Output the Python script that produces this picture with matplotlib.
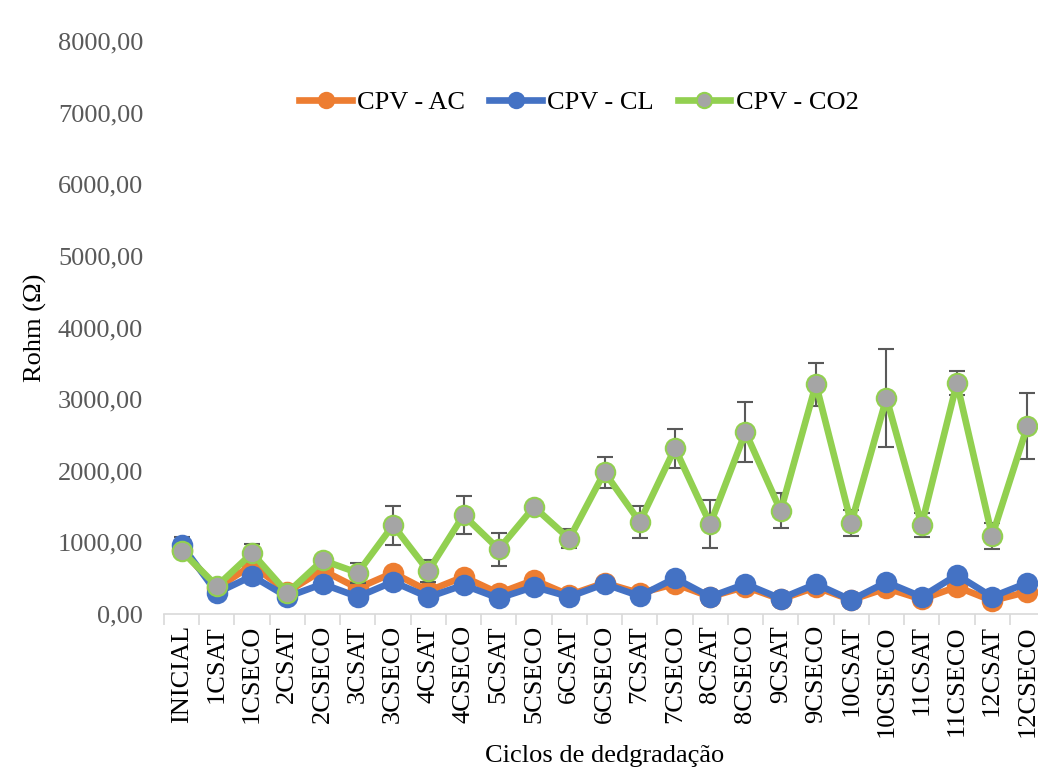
import numpy as np
import matplotlib
matplotlib.use('Agg')
import matplotlib.pyplot as plt
from matplotlib.lines import Line2D

plt.rcParams['font.family'] = ['Liberation Serif', 'DejaVu Serif']

ciclos = ["INICIAL", "1CSAT", "1CSECO", "2CSAT", "2CSECO", "3CSAT", "3CSECO",
          "4CSAT", "4CSECO", "5CSAT", "5CSECO", "6CSAT", "6CSECO", "7CSAT",
          "7CSECO", "8CSAT", "8CSECO", "9CSAT", "9CSECO", "10CSAT", "10CSECO",
          "11CSAT", "11CSECO", "12CSAT", "12CSECO"]

cpv_ac = [900, 360, 685, 310, 610, 360, 575, 320, 520, 290, 475, 265, 435,
          290, 420, 240, 380, 205, 375, 195, 360, 205, 380, 185, 310]
cpv_cl = [965, 295, 530, 240, 420, 240, 450, 235, 405, 220, 380, 240, 420,
          250, 500, 240, 420, 215, 420, 195, 445, 240, 545, 240, 435]
cpv_co2 = [880, 390, 850, 295, 750, 575, 1240, 600, 1380, 905, 1495, 1050, 1980,
           1285, 2315, 1255, 2540, 1440, 3210, 1270, 3015, 1245, 3225, 1090, 2625]

err_ac = [0] * 25
err_cl = [105] + [0] * 24
err_co2 = [40, 40, 125, 40, 40, 140, 270, 160, 265, 230, 40, 130, 215,
           225, 270, 330, 420, 245, 300, 180, 685, 170, 170, 180, 455]

series = [
    ('CPV - AC', cpv_ac, err_ac, '#ED7D31', '#ED7D31'),
    ('CPV - CL', cpv_cl, err_cl, '#4472C4', '#4472C4'),
    ('CPV - CO2', cpv_co2, err_co2, '#92D050', '#A5A5A5'),
]

fig = plt.figure(figsize=(10.38, 7.71), dpi=100)
ax = fig.add_axes([164 / 1038, 157 / 771, 881 / 1038, 573 / 771])

x = np.arange(len(ciclos))

handles = []
for i, (name, vals, err, col, fill) in enumerate(series):
    ax.errorbar(x, vals, yerr=err, color=col, lw=4.8, marker='o', ms=14,
                mfc=fill, mec=col, mew=1.5, ecolor='#595959', elinewidth=1.5,
                capsize=6, capthick=1.5, zorder=3 + i)
    handles.append(Line2D([], [], color=col, lw=4.8, marker='o', ms=11,
                          mfc=fill, mec=col, mew=1.5, label=name))

ax.set_xlim(-0.5, len(ciclos) - 0.5)
ax.set_ylim(0, 8000)
yt = np.arange(0, 8001, 1000)
ax.set_yticks(yt)
ax.set_yticklabels([f"{v:.2f}".replace('.', ',') for v in yt])
ax.tick_params(axis='y', length=0, labelsize=19, labelcolor='#595959', pad=15)

ax.set_xticks(x)
ax.set_xticklabels(ciclos, rotation=90, fontsize=19)
ax.set_xticks(np.arange(-0.5, len(ciclos)), minor=True)
ax.tick_params(axis='x', which='major', length=0, pad=8)
ax.tick_params(axis='x', which='minor', length=8, color='#D9D9D9', width=1.2)

for s in ['top', 'right', 'left']:
    ax.spines[s].set_visible(False)
ax.spines['bottom'].set_color('#D9D9D9')
ax.spines['bottom'].set_linewidth(1.2)

ax.set_ylabel('Rohm (Ω)', fontsize=19, labelpad=8)
ax.set_xlabel('Ciclos de dedgradação', fontsize=19, labelpad=6)

ax.legend(handles=handles, loc='upper center', bbox_to_anchor=(0.471, 0.955),
          ncol=3, frameon=False, fontsize=19, handlelength=2.0,
          columnspacing=0.9, handletextpad=0.2)

fig.savefig('out.png', dpi=100)
